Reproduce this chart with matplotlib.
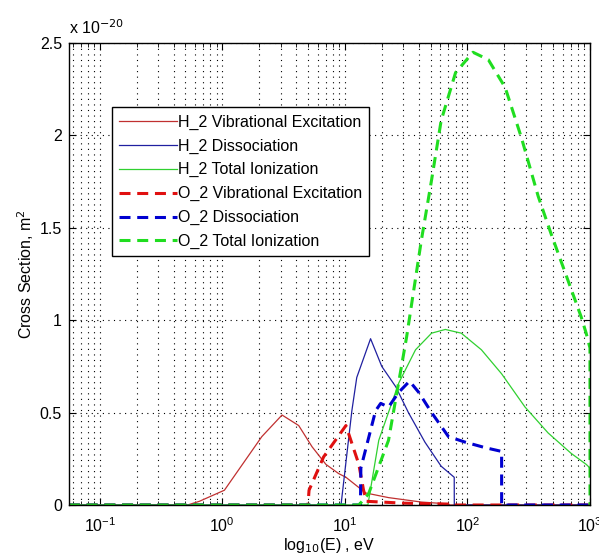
import numpy as np
import matplotlib.pyplot as plt
from matplotlib.ticker import LogLocator, NullFormatter, FixedLocator

plt.rcParams['font.family'] = ['Liberation Sans', 'DejaVu Sans']

# cross sections in units of 1e-20 m^2, energies in eV
E_h2_vib = [0.056, 0.52, 0.65, 1.04, 2.1, 3.07, 4.2, 5.4, 7.0, 8.9, 10.2, 14.8, 22.7, 42, 70, 72, 1000]
s_h2_vib = [0, 0, 0.02, 0.08, 0.37, 0.487, 0.43, 0.315, 0.22, 0.17, 0.15, 0.065, 0.04, 0.016, 0.006, 0, 0]

E_h2_dis = [0.056, 9.3, 11.4, 12.5, 16.2, 20, 26, 33, 45, 61, 78, 78.1, 1000]
s_h2_dis = [0, 0, 0.51, 0.69, 0.90, 0.75, 0.64, 0.50, 0.34, 0.21, 0.15, 0, 0]

E_h2_ion = [0.056, 15.4, 18.9, 27.5, 37.7, 51, 66, 89, 130, 190, 295, 455, 700, 930, 1000]
s_h2_ion = [0, 0, 0.35, 0.66, 0.84, 0.93, 0.95, 0.93, 0.84, 0.71, 0.53, 0.39, 0.28, 0.22, 0.2]

E_o2_vib = [0.056, 5.0, 5.1, 6.7, 10.2, 13.0, 14.2, 15.0, 30, 70, 72, 1000]
s_o2_vib = [0, 0, 0.08, 0.26, 0.43, 0.22, 0.08, 0.02, 0.01, 0.005, 0, 0]

E_o2_dis = [0.056, 13.4, 13.5, 17.8, 19.6, 22.7, 27.5, 33.7, 40, 51, 70, 96, 140, 190, 190.1, 1000]
s_o2_dis = [0, 0, 0.2, 0.51, 0.55, 0.53, 0.61, 0.67, 0.61, 0.50, 0.37, 0.34, 0.31, 0.29, 0, 0]

E_o2_ion = [0.056, 13.0, 15.6, 22.7, 31.9, 42, 51, 61, 80, 111, 148, 203, 275, 378, 480, 625, 845, 930, 999, 1000]
s_o2_ion = [0, 0, 0.06, 0.35, 0.91, 1.43, 1.76, 2.08, 2.34, 2.45, 2.41, 2.26, 1.99, 1.67, 1.47, 1.26, 1.02, 0.93, 0.85, 0]

fig = plt.figure(figsize=(5.99, 5.59), dpi=100)
ax = fig.add_axes([0.115, 0.0966, 0.87, 0.8264])

ax.plot(E_h2_vib, s_h2_vib, color='#c03030', lw=0.9, label='H_2 Vibrational Excitation')
ax.plot(E_h2_dis, s_h2_dis, color='#2020a0', lw=0.9, label='H_2 Dissociation')
ax.plot(E_h2_ion, s_h2_ion, color='#30d030', lw=0.9, label='H_2 Total Ionization')
ax.plot(E_o2_vib, s_o2_vib, color='#e01010', lw=2.2, dashes=(3.6, 2.2), label='O_2 Vibrational Excitation')
ax.plot(E_o2_dis, s_o2_dis, color='#0000d0', lw=2.2, dashes=(3.6, 2.2), label='O_2 Dissociation')
ax.plot(E_o2_ion, s_o2_ion, color='#20dd20', lw=2.2, dashes=(3.6, 2.2), label='O_2 Total Ionization')

ax.set_xscale('log')
ax.set_xlim(0.056, 1000)
ax.set_ylim(0, 2.5)
ax.yaxis.set_major_locator(FixedLocator([0, 0.5, 1, 1.5, 2, 2.5]))
ax.set_yticklabels(['0', '0.5', '1', '1.5', '2', '2.5'])
ax.xaxis.set_major_locator(LogLocator(base=10, numticks=10))
ax.xaxis.set_minor_locator(LogLocator(base=10, subs=np.arange(2, 10), numticks=20))
ax.xaxis.set_minor_formatter(NullFormatter())

# MATLAB-style sparse dotted grid
grid_style = dict(linestyle=(0, (1, 4)), color='black', lw=0.8)
ax.grid(True, which='major', **grid_style)
ax.grid(True, which='minor', axis='x', **grid_style)
ax.tick_params(which='both', direction='in', top=True, right=True, labelsize=11.5)
ax.tick_params(which='major', length=5)
ax.tick_params(which='minor', length=3)
ax.tick_params(axis='x', which='major', pad=8)
ax.tick_params(axis='y', which='major', pad=5)
for sp in ax.spines.values():
    sp.set_linewidth(1.0)

ax.set_xlabel('log$_{10}$(E) , eV', fontsize=11.5, labelpad=1)
ax.set_ylabel('Cross Section, m$^2$', fontsize=11.5, labelpad=3)
ax.text(0.0, 1.012, r'x 10$^{-20}$', transform=ax.transAxes, fontsize=11.5, ha='left', va='bottom')

ax.legend(loc='upper left', bbox_to_anchor=(0.0825, 0.861), borderaxespad=0,
          fancybox=False, edgecolor='black', framealpha=1, fontsize=11.5,
          handlelength=3.6, handletextpad=0.1, labelspacing=0.55, borderpad=0.45)

fig.savefig('out.png', dpi=100)
